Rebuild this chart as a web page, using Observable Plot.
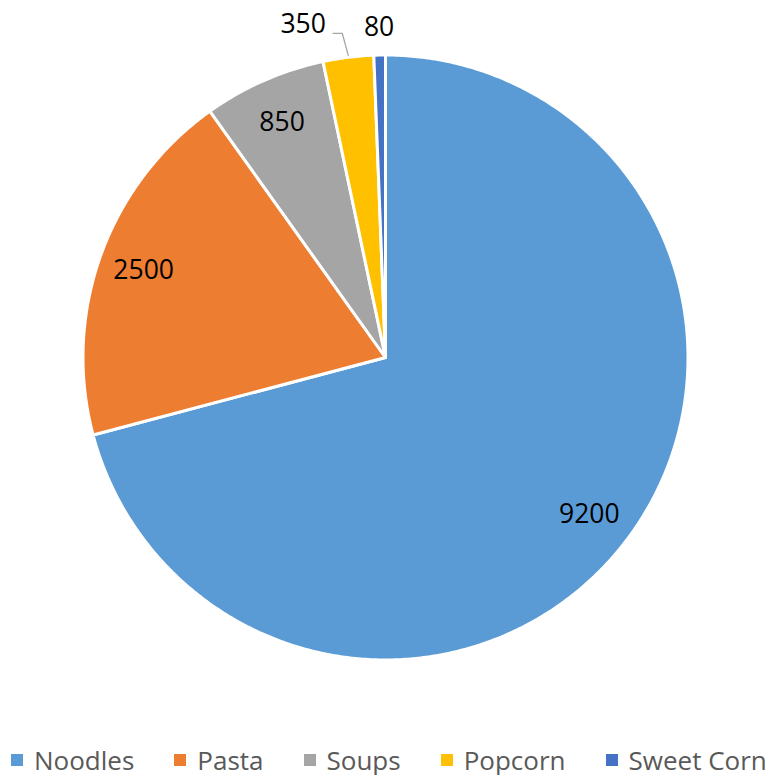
<!DOCTYPE html>
<html>
<head>
<meta charset="utf-8">
<script src="https://cdn.jsdelivr.net/npm/d3@7"></script>
<script src="https://cdn.jsdelivr.net/npm/@observablehq/plot@0.6"></script>
<style>
  body { margin: 0; background: #fff; overflow: hidden; }
  #chart { width: 775px; }
  .legend { display: flex; justify-content: flex-start; align-items: center; gap: 40px; white-space: nowrap;
    font-family: "Open Sans", sans-serif; font-size: 26px; line-height: 30px; letter-spacing: 0px; color: #595959; margin-top: 25px; padding-left: 11px; }
  .legend .item { display: flex; align-items: center; gap: 11px; }
  .legend .sw { width: 12px; height: 12px; display: inline-block; }
</style>
</head>
<body>
<div id="chart"></div>
<script>
const categories = ["Noodles", "Pasta", "Soups", "Popcorn", "Sweet Corn"];
const values = [9200, 2500, 850, 350, 80];
const colors = ["#5B9BD5", "#ED7D31", "#A5A5A5", "#FFC000", "#4472C4"];

const W = 775, H = 720, CX = 385, CY = 357, R = 302.5;
const unit = 1 / R; // one pixel in data units

const arcs = d3.pie().sort(null).value(d => d)(values);
const total = d3.sum(values);

// slice polygons
const poly = [];
arcs.forEach((a, i) => {
  const name = categories[i];
  poly.push({name, x: 0, y: 0, c: colors[i]});
  const n = Math.max(2, Math.ceil((a.endAngle - a.startAngle) / (Math.PI / 360)));
  for (let k = 0; k <= n; k++) {
    const t = a.startAngle + (a.endAngle - a.startAngle) * k / n;
    poly.push({name, x: Math.sin(t), y: Math.cos(t), c: colors[i]});
  }
  poly.push({name, x: 0, y: 0, c: colors[i]});
});

// labels
const labels = [];
const leaders = [];
arcs.forEach((a, i) => {
  const mid = (a.startAngle + a.endAngle) / 2;
  const share = values[i] / total;
  if (share >= 0.05) {
    labels.push({x: 0.85 * Math.sin(mid), y: 0.85 * Math.cos(mid), text: String(values[i])});
  } else {
    labels.push({x: 1.09 * Math.sin(mid), y: 1.09 * Math.cos(mid), text: String(values[i]), outside: true, mid, i});
  }
});
// resolve overlap of outside labels: shift earlier one left and draw leader
const outs = labels.filter(d => d.outside);
for (let k = 0; k < outs.length - 1; k++) {
  const a = outs[k], b = outs[k + 1];
  const minGap = 76 * unit;
  if (b.x - a.x < minGap) {
    a.x = b.x - minGap;
    a.y += 6 * unit;
    const ex = Math.sin(a.mid), ey = Math.cos(a.mid);
    const ly = a.y - 9 * unit;
    leaders.push({x: a.x + 30 * unit, y: ly, k});
    leaders.push({x: ex - 6 * unit, y: ly, k});
    leaders.push({x: ex, y: ey + 2 * unit, k});
  }
}

const plot = Plot.plot({
  width: W,
  height: H,
  margin: 0,
  x: {type: "linear", domain: [-1, 1], range: [CX - R, CX + R], axis: null},
  y: {type: "linear", domain: [-1, 1], range: [CY + R, CY - R], axis: null},
  style: {background: "#fff", overflow: "visible"},
  marks: [
    Plot.line(poly, {x: "x", y: "y", z: "name", fill: "c", stroke: "#fff", strokeWidth: 3, strokeLinejoin: "round", curve: "linear"}),
    Plot.line(leaders, {x: "x", y: "y", z: "k", stroke: "#A6A6A6", strokeWidth: 1.3, curve: "linear"}),
    Plot.text(labels, {x: "x", y: "y", text: "text", fill: "#000", fontSize: 26.5, fontFamily: "Open Sans"})
  ]
});
document.getElementById("chart").appendChild(plot);

const legend = document.createElement("div");
legend.className = "legend";
categories.forEach((c, i) => {
  const it = document.createElement("span");
  it.className = "item";
  const sw = document.createElement("span");
  sw.className = "sw";
  sw.style.background = colors[i];
  const tx = document.createElement("span");
  tx.textContent = c;
  it.appendChild(sw); it.appendChild(tx);
  legend.appendChild(it);
});
document.getElementById("chart").appendChild(legend);
</script>
</body>
</html>
